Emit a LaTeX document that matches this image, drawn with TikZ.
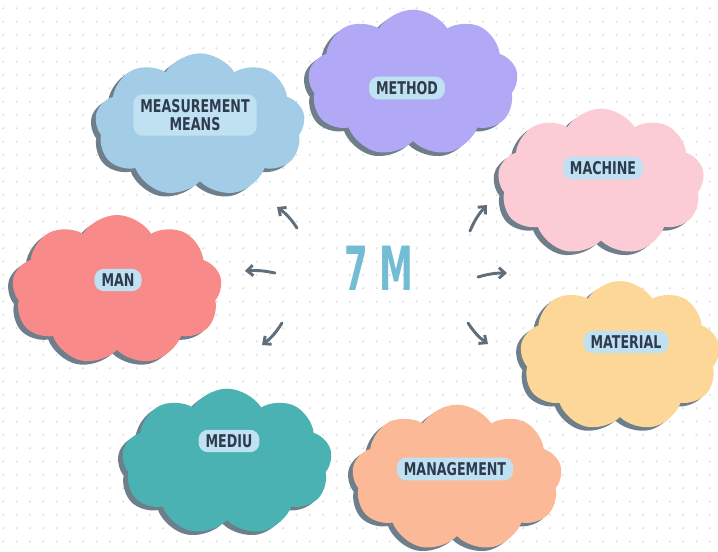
\documentclass[tikz,border=0pt]{standalone}
\usepackage{fontspec}
\setmainfont{DejaVu Sans Condensed}
\newfontfamily\tagfont{DejaVu Sans Condensed}[FakeStretch=0.8]
\newfontfamily\hubfont{DejaVu Sans Condensed}[FakeStretch=0.62]
\usetikzlibrary{shapes.symbols,shadows,arrows.meta,positioning}

\definecolor{dotgray}{HTML}{D9DFE4}
\definecolor{shadegray}{HTML}{6E7E8A}
\definecolor{tagblue}{HTML}{BFE1F2}
\definecolor{ink}{HTML}{2E3B4C}
\definecolor{arrowgray}{HTML}{5F6E7A}
\definecolor{sevenblue}{HTML}{72BCD4}
\definecolor{skyc}{HTML}{A3CDE6}
\definecolor{lilac}{HTML}{B2A9F6}
\definecolor{rosec}{HTML}{FCCCD6}
\definecolor{redc}{HTML}{F98A8A}
\definecolor{sandc}{HTML}{FCD798}
\definecolor{tealc}{HTML}{4AB2B2}
\definecolor{peachc}{HTML}{FBB997}

\tikzset{
  blob/.style={cloud, cloud puffs=9, cloud puff arc=115, aspect=1.5, inner sep=0pt, draw=none,
    drop shadow={shadow xshift=-4pt, shadow yshift=-3pt, fill=shadegray, opacity=1}},
  tag/.style={fill=tagblue, rounded corners=8pt, inner xsep=6pt, inner ysep=4pt, text=ink,
    font=\tagfont\bfseries\fontsize{15}{16}\selectfont, align=center},
  pointer/.style={-{Straight Barb[length=5pt,width=9pt]}, line width=2.5pt, line cap=round, arrowgray},
}

\begin{document}
\begin{tikzpicture}[x=0.03cm, y=-0.03cm]
\useasboundingbox[fill=white] (0,0) rectangle (718,551);

% dotted paper
\foreach \i in {0,...,53}
  \foreach \j in {0,...,41}
    \fill[dotgray] (3.3+13.33*\i, 8.3+13.33*\j) circle (1.1);

% clouds
\node[blob, fill=skyc,   minimum width=6.3cm, minimum height=4.3cm] (meas)   at (200,125) {};
\node[blob, fill=lilac,  minimum width=6.3cm, minimum height=4.4cm] (method) at (413,83)  {};
\node[blob, fill=rosec,  minimum width=6.2cm, minimum height=4.4cm] (mach)   at (601,182) {};
\node[blob, fill=redc,   minimum width=6.3cm, minimum height=4.5cm] (man)    at (117,290) {};
\node[blob, fill=sandc,  minimum width=6.0cm, minimum height=4.5cm] (mat)    at (620,356) {};
\node[blob, fill=tealc,  minimum width=6.3cm, minimum height=4.4cm] (mediu)  at (227,462) {};
\node[blob, fill=peachc, minimum width=6.3cm, minimum height=4.4cm] (mgmt)   at (457,478) {};

% labels
\node[tag] (measT)   at (195,115) {MEASUREMENT\\MEANS};
\node[tag] (methodT) at (407,88)  {METHOD};
\node[tag] (machT)   at (603,168) {MACHINE};
\node[tag] (manT)    at (118,280) {MAN};
\node[tag] (matT)    at (626,342) {MATERIAL};
\node[tag] (mediuT)  at (229,441) {MEDIU};
\node[tag] (mgmtT)   at (455,469) {MANAGEMENT};

% centre
\node[text=sevenblue, font=\hubfont\bfseries\fontsize{52}{56}\selectfont] (hub) at (379,268) {7 M};

% arrows
\coordinate (ulA) at (297,228); \coordinate (ulB) at (277,207);
\coordinate (urA) at (470,231); \coordinate (urB) at (487,205);
\coordinate (lA)  at (275,273); \coordinate (lB)  at (245,271);
\coordinate (rA)  at (478,277); \coordinate (rB)  at (507,273);
\coordinate (llA) at (282,323); \coordinate (llB) at (262,345);
\coordinate (lrA) at (468,323); \coordinate (lrB) at (488,344);
\draw[pointer] (ulA) to[bend right=10] (ulB);
\draw[pointer] (urA) to[bend left=10] (urB);
\draw[pointer] (lA) to[bend right=8] (lB);
\draw[pointer] (rA) to[bend left=8] (rB);
\draw[pointer] (llA) to[bend left=10] (llB);
\draw[pointer] (lrA) to[bend right=10] (lrB);
\end{tikzpicture}
\end{document}
